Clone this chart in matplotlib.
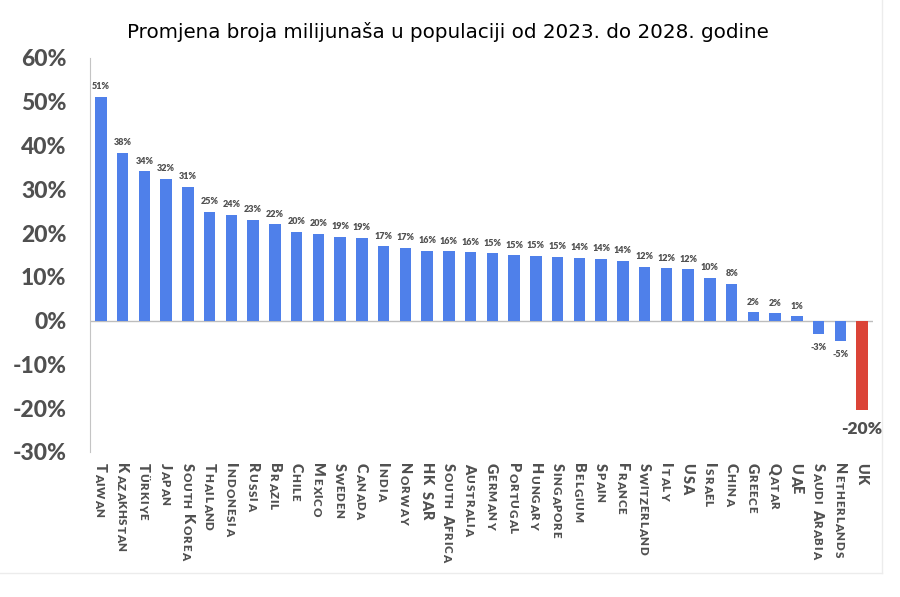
import numpy as np
import matplotlib.pyplot as plt
from matplotlib.lines import Line2D

countries = ['Taiwan', 'Kazakhstan', 'Türkiye', 'Japan', 'South Korea', 'Thailand',
             'Indonesia', 'Russia', 'Brazil', 'Chile', 'Mexico', 'Sweden', 'Canada',
             'India', 'Norway', 'HK SAR', 'South Africa', 'Australia', 'Germany',
             'Portugal', 'Hungary', 'Singapore', 'Belgium', 'Spain', 'France',
             'Switzerland', 'Italy', 'USA', 'Israel', 'China', 'Greece', 'Qatar',
             'UAE', 'Saudi Arabia', 'Netherlands', 'UK']
change = [51.1, 38.4, 34.1, 32.4, 30.6, 24.9, 24.2, 23.1, 22.0, 20.3, 19.9, 19.1, 18.9,
          17.0, 16.7, 15.9, 15.8, 15.6, 15.4, 14.9, 14.8, 14.6, 14.4, 14.1, 13.7,
          12.3, 12.0, 11.7, 9.8, 8.4, 1.9, 1.7, 1.0, -3.1, -4.7, -20.4]
yticks = [-30, -20, -10, 0, 10, 20, 30, 40, 50, 60]
title = 'Promjena broja milijunaša u populaciji od 2023. do 2028. godine'

BLUE = '#4f80ea'
RED = '#db4437'
GREY = '#505050'
FONT = 'Lato'


def smallcaps(ax, x, name, big=10.4, small=8.3, gap=0.6, space=3.4):
    # fake small caps: chain one annotation per letter, top to bottom
    prev = None
    pending = 0
    for ch in name:
        if ch == ' ':
            pending += space
            continue
        size = big if ch.isupper() else small
        if prev is None:
            xyc, xy, dy = ('data', 'axes fraction'), (x, -0.028), 0
        else:
            xyc, xy, dy = ('data', prev), (x, 0), -(gap + pending)
        prev = ax.annotate(ch.upper(), xy=xy, xycoords=xyc, xytext=(-3.8, dy),
                           textcoords='offset points', rotation=-90,
                           rotation_mode='anchor', ha='left', va='baseline',
                           fontsize=size, fontweight='heavy', color=GREY,
                           family=FONT, annotation_clip=False)
        pending = 0


fig = plt.figure(figsize=(9, 5.97), dpi=100)
ax = fig.add_axes([0.1, 0.2429, 0.87, 0.66])

x = np.arange(len(countries))
colors = [RED if c == 'UK' else BLUE for c in countries]
ax.bar(x, change, width=0.53, color=colors, zorder=2)

for xi, v, c in zip(x, change, countries):
    txt = '%.0f%%' % v
    if c == 'UK':
        ax.annotate(txt, (xi, v), xytext=(0, -8), textcoords='offset points',
                    ha='center', va='top', fontsize=12.5, fontweight='heavy',
                    color=GREY, family=FONT)
    elif v < 0:
        ax.annotate(txt, (xi, v), xytext=(0, -6), textcoords='offset points',
                    ha='center', va='top', fontsize=6.5, fontweight='heavy',
                    color=GREY, family=FONT)
    else:
        ax.annotate(txt, (xi, v), xytext=(0, 4), textcoords='offset points',
                    ha='center', va='bottom', fontsize=6.5, fontweight='heavy',
                    color=GREY, family=FONT)

ax.axhline(0, color='#bdbdbd', lw=1, zorder=1)
ax.set_xlim(-0.5, len(countries) - 0.5)
ax.set_ylim(-30, 60)
ax.set_yticks(yticks)
ax.set_yticklabels(['%d%%' % t for t in yticks], fontsize=16.5, fontweight='black',
                   color=GREY, family=FONT)
ax.tick_params(axis='y', length=0, pad=17)
ax.set_xticks([])
for s in ['top', 'right', 'bottom']:
    ax.spines[s].set_visible(False)
ax.spines['left'].set_color('#c4c4c4')

for xi, c in zip(x, countries):
    smallcaps(ax, xi, c)

fig.text(0.498, 0.946, title, ha='center', va='center', fontsize=14.3, color='black')

# faint card border
fig.add_artist(Line2D([0.98, 0.98], [0.04, 1.0], color='#ececec', lw=1))
fig.add_artist(Line2D([0.0, 0.98], [0.04, 0.04], color='#ececec', lw=1))

fig.savefig('out.png', dpi=100)
